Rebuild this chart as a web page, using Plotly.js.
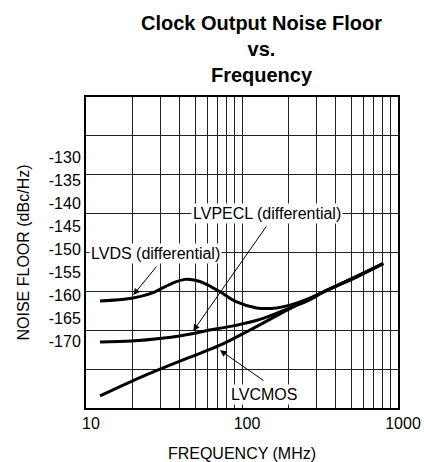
<!DOCTYPE html>
<html>
<head>
<meta charset="utf-8">
<script src="https://cdn.plot.ly/plotly-3.0.1.min.js"></script>
<style>html,body{margin:0;padding:0;background:#fff;}#chart{width:424px;height:462px;}</style>
</head>
<body>
<div id="chart"></div>
<script>
// Frequency (MHz) and noise floor (dBc/Hz)
const lvdsFreq = [12.3, 19.6, 26.4, 35.4, 43.1, 50, 57.9, 72.3, 92.5, 124, 167, 203, 273, 332, 543, 805];
const lvdsNoise = [-161.3, -160.7, -159.6, -157.5, -156.6, -156.8, -157.5, -159.3, -161.5, -162.8, -162.8, -162.2, -160.7, -159.3, -156.0, -153.1];

const lvpeclFreq = [12.3, 19.6, 30.6, 50, 57.9, 88, 130.5, 193, 273, 332, 543, 805];
const lvpeclNoise = [-170.2, -170.0, -169.4, -168.3, -167.8, -166.7, -165.3, -163.1, -161.0, -159.4, -156.1, -153.2];

const lvcmosFreq = [12.3, 19.1, 29.8, 46.4, 72.3, 112.5, 175.2, 235.5, 425, 802];
const lvcmosNoise = [-181.9, -178.9, -176.1, -173.5, -170.9, -167.6, -164.1, -161.8, -157.6, -153.2];

const yTickVals = [-130, -135, -140, -145, -150, -155, -160, -165, -170];
const yTickText = ['-130', '-135', '-140', '-145', '-150', '-155', '-160', '-165', '-170'];
const xGridVals = [10, 20, 30, 40, 50, 60, 70, 80, 90, 100, 200, 300, 400, 500, 600, 700, 800, 900, 1000];
const xGridText = ['10', '', '', '', '', '', '', '', '', '100', '', '', '', '', '', '', '', '', '1000'];

const FONT = 'Liberation Sans, Arial, sans-serif';
const L = Math.log10;

const lineStyle = {color: '#000', width: 3, shape: 'spline', smoothing: 1};
const traces = [
  {x: lvdsFreq, y: lvdsNoise, mode: 'lines', line: lineStyle, name: 'LVDS (differential)'},
  {x: lvpeclFreq, y: lvpeclNoise, mode: 'lines', line: lineStyle, name: 'LVPECL (differential)'},
  {x: lvcmosFreq, y: lvcmosNoise, mode: 'lines', line: lineStyle, name: 'LVCMOS'},
  {x: [], y: [], yaxis: 'y2', mode: 'lines', showlegend: false, hoverinfo: 'skip'}
];

function label(text, x, y) {
  return {text: text, x: L(x), y: y, xref: 'x', yref: 'y', showarrow: false,
    bgcolor: '#fff', borderpad: 1, font: {family: FONT, size: 16, color: '#000'}};
}
function arrow(x, y, ax, ay) {
  return {text: '', x: L(x), y: y, ax: L(ax), ay: ay, xref: 'x', yref: 'y', axref: 'x', ayref: 'y',
    showarrow: true, arrowhead: 2, arrowsize: 1.3, arrowwidth: 1, arrowcolor: '#000'};
}

const layout = {
  width: 424, height: 462,
  margin: {l: 86, r: 26, t: 97, b: 54},
  paper_bgcolor: '#fff', plot_bgcolor: '#fff',
  showlegend: false,
  title: {
    text: '<b>Clock Output Noise Floor<br>vs.<br>Frequency</b>',
    font: {family: FONT, size: 20, color: '#000'},
    xref: 'paper', x: 0.5625, xanchor: 'center',
    yref: 'container', y: 0.935, yanchor: 'top'
  },
  xaxis: {
    type: 'log', range: [1, 3],
    tickvals: xGridVals, ticktext: xGridText,
    showgrid: true, gridcolor: '#222', gridwidth: 1,
    ticks: '', ticklabelshift: 5,
    tickfont: {family: FONT, size: 16, color: '#000'},
    showline: true, linecolor: '#000', linewidth: 2, mirror: true, zeroline: false,
    title: {text: 'FREQUENCY (MHz)', font: {family: FONT, size: 16, color: '#000'}, standoff: 17}
  },
  yaxis: {
    range: [-184.54, -116.98],
    tickvals: yTickVals, ticktext: yTickText,
    showgrid: false, zeroline: false, ticks: '',
    tickfont: {family: FONT, size: 16, color: '#000'},
    showline: true, linecolor: '#000', linewidth: 2, mirror: true,
    title: {text: 'NOISE FLOOR (dBc/Hz)', font: {family: FONT, size: 16, color: '#000'}, standoff: 15}
  },
  yaxis2: {
    overlaying: 'y', side: 'left', range: [0, 8], dtick: 1,
    showgrid: true, gridcolor: '#222', gridwidth: 1,
    showticklabels: false, ticks: '', showline: false, zeroline: false
  },
  annotations: [
    label('LVDS (differential)', 28.0, -150.9),
    label('LVPECL (differential)', 143.9, -142.3),
    label('LVCMOS', 139.3, -181.5),
    arrow(20.1, -160.0, 28.8, -153.5),
    arrow(48.7, -167.8, 145.2, -144.8),
    arrow(72.3, -172.0, 140.3, -178.8)
  ]
};

Plotly.newPlot('chart', traces, layout, {displayModeBar: false, staticPlot: true});
</script>
</body>
</html>
